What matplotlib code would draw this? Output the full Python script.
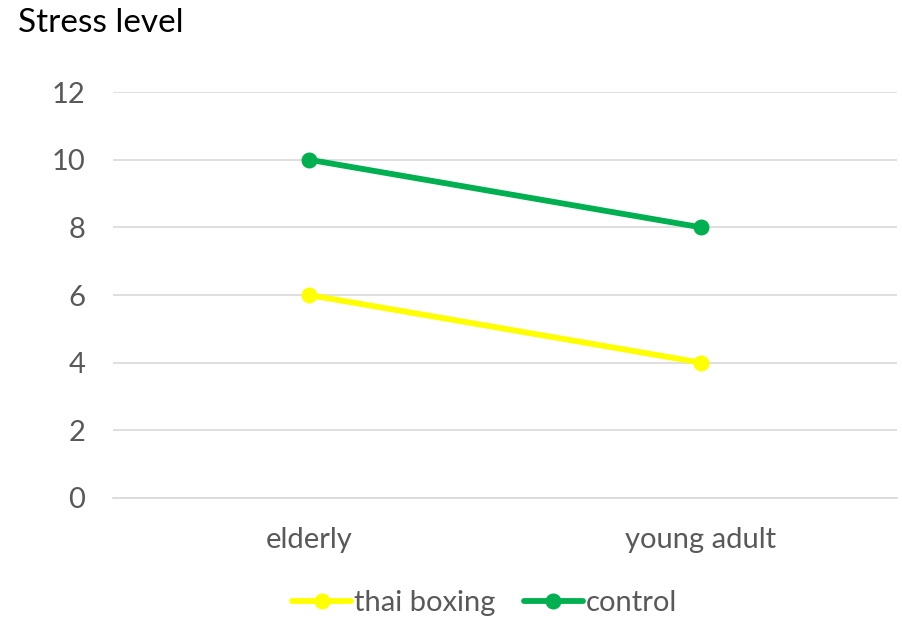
import matplotlib.pyplot as plt
import numpy as np

plt.rcParams['font.family'] = ['Lato', 'DejaVu Sans']

categories = ["elderly", "young adult"]
thai_boxing = [6, 4]
control = [10, 8]
yticks = [0, 2, 4, 6, 8, 10, 12]

fig = plt.figure(figsize=(9.03, 6.18), dpi=100)
ax = fig.add_axes([0.1251, 0.1942, 0.8683, 0.6569])

x = np.arange(len(categories))
ax.plot(x, thai_boxing, color='#FFFF00', lw=4.2, marker='o', ms=10.5, label='thai boxing', solid_capstyle='round')
ax.plot(x, control, color='#00B050', lw=4.2, marker='o', ms=10.5, label='control', solid_capstyle='round')

ax.set_xlim(-0.5, 1.5)
ax.set_ylim(0, 12)
ax.set_yticks(yticks)
ax.set_xticks(x)
ax.set_xticklabels(categories)
ax.tick_params(axis='both', length=0, labelsize=21, colors='#595959')
ax.tick_params(axis='y', pad=20)
ax.tick_params(axis='x', pad=21)
ax.yaxis.grid(True, color='#D9D9D9', lw=1.2)
ax.set_axisbelow(True)
for s in ['top', 'right', 'left']:
    ax.spines[s].set_visible(False)
ax.spines['bottom'].set_color('#D9D9D9')
ax.spines['bottom'].set_linewidth(1.2)

fig.text(0.02, 0.962, "Stress level", fontsize=24, color='black', va='center', ha='left')

ax.legend(loc='center', bbox_to_anchor=(0.474, -0.259), ncol=2, frameon=False, fontsize=21,
          labelcolor='#595959', handlelength=2.0, handletextpad=0.1, columnspacing=1.0)

plt.savefig("out.png", dpi=100)
